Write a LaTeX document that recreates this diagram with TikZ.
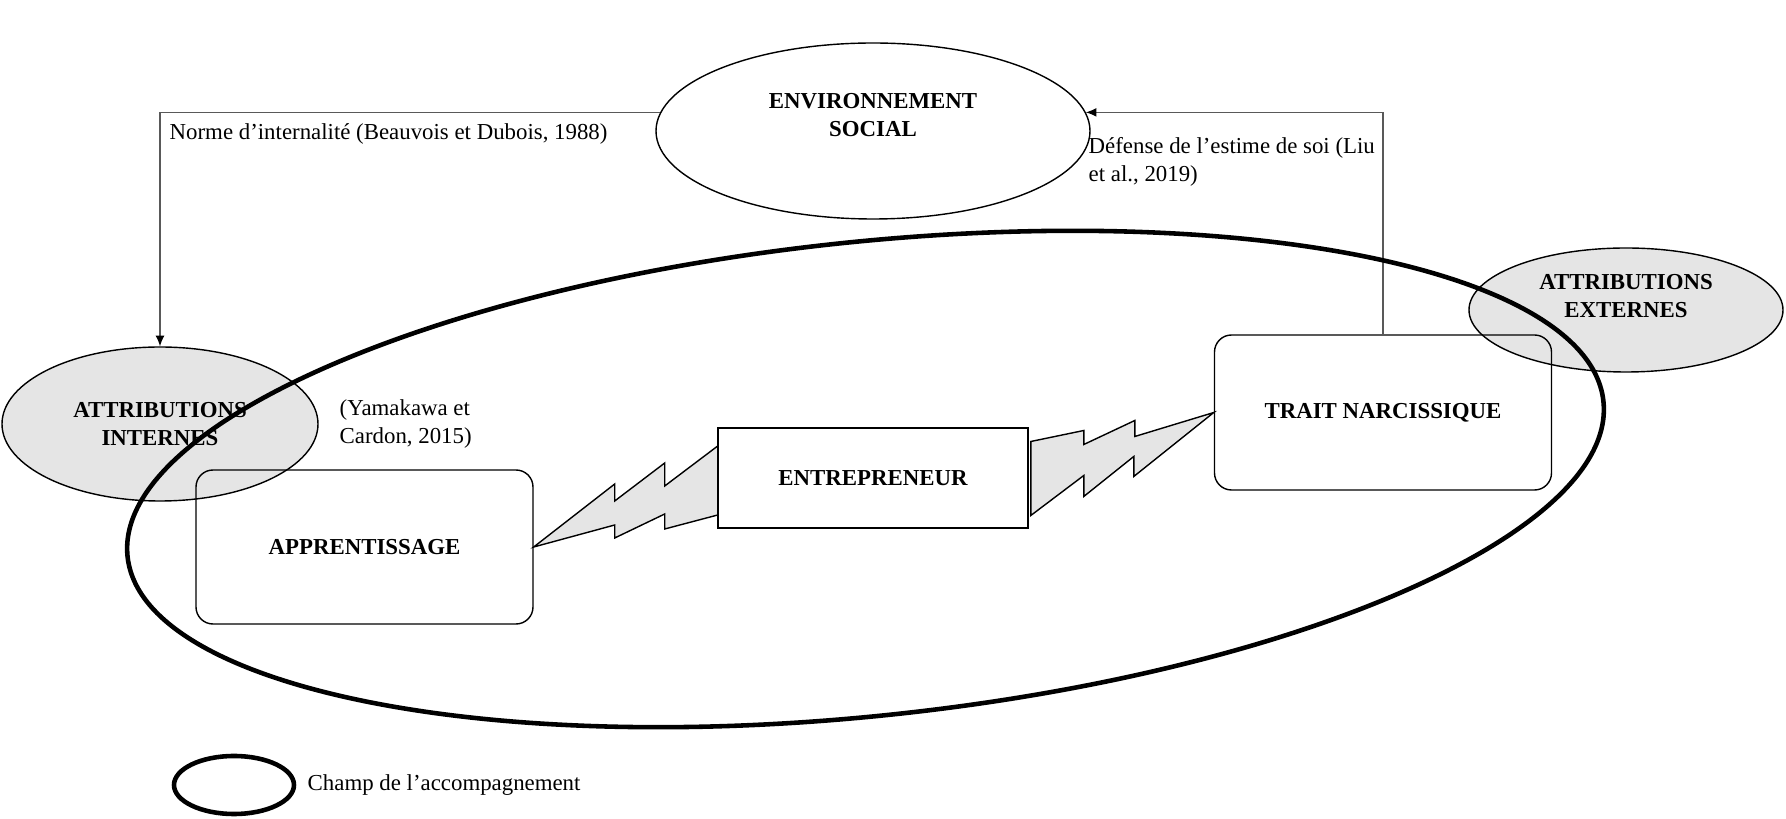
\documentclass[tikz,border=0pt]{standalone}
\usepackage{fontspec}
\setmainfont{Liberation Serif}
\usetikzlibrary{shapes.geometric,arrows.meta}

\begin{document}
\begin{tikzpicture}[line width=0.8pt, >={Latex[length=6pt,width=5pt,color=black]},
	font=\fontsize{13}{16}\selectfont,
	titre/.style={font=\fontsize{13}{16}\selectfont\bfseries, align=center},
	note/.style={inner sep=0pt, align=left, anchor=west},
	bulle/.style={ellipse, draw, inner sep=0pt},
	attrib/.style={bulle, fill=black!10},
	boite/.style={draw, rounded corners=0.34cm, minimum width=6.74cm, minimum height=3.08cm, titre},
	eclair/.style={draw, fill=black!10},
	lien/.style={line width=0.6pt, draw=black!65},
	champ/.style={line width=2.6pt}]

\useasboundingbox (0,0) rectangle (35.72,-16.38);

\node (ai) at (3.2,-8.48) [attrib, minimum width=6.32cm, minimum height=3.08cm] {};
\node (aitxt) at (ai.center) [titre] {ATTRIBUTIONS\\INTERNES};
\node (ae) at (32.52,-6.2) [attrib, minimum width=6.28cm, minimum height=2.48cm] {};
\node (aetxt) at ([yshift=0.28cm]ae.center) [titre] {ATTRIBUTIONS\\EXTERNES};

\node (env) at (17.46,-2.62) [bulle, minimum width=8.68cm, minimum height=3.52cm] {};
\node (envtxt) at ([yshift=0.32cm]env.center) [titre] {ENVIRONNEMENT\\SOCIAL};

\node (app) at (7.29,-10.94) [boite] {APPRENTISSAGE};
\node (ent) at (17.46,-9.56) [draw, minimum width=6.2cm, minimum height=2cm, titre] {ENTREPRENEUR};
\node (tn) at (27.66,-8.25) [boite, minimum height=3.1cm] {TRAIT NARCISSIQUE};

\draw[eclair] (app.east) -- ++(1.62,1.26) -- ++(0,-0.34) -- ++(1,0.76) -- ++(0,-0.46)
	-- ++(1.06,0.8) -- ++(0,-1.38) -- ++(-1.06,-0.28) -- ++(0,0.3) -- ++(-1,-0.48) -- ++(0,0.26) -- cycle;
\draw[eclair] (tn.west) -- ++(-1.58,-0.48) -- ++(0,0.32) -- ++(-1.02,-0.48) -- ++(0,0.28)
	-- ++(-1.06,-0.22) -- ++(0,-1.48) -- ++(1.06,0.8) -- ++(0,-0.42) -- ++(1,0.8) -- ++(0,-0.4) -- cycle;

\draw[lien,->] (env.175) -| (ai.north);
\draw[lien,->] (tn.north) |- (env.5);

\node (norme) at (3.38,-2.68) [note] {Norme d’internalité (Beauvois et Dubois, 1988)};
\node (defense) at (21.76,-3.23) [note] {Défense de l’estime de soi (Liu\\et al., 2019)};
\node (yama) at (6.78,-8.48) [note] {(Yamakawa et\\Cardon, 2015)};

% champ de l'accompagnement
\draw[champ, rotate around={6:(17.31,-9.58)}] (17.31,-9.58) ellipse[x radius=14.84, y radius=4.74];

\node (leg) at (4.68,-15.7) [bulle, champ, minimum width=2.4cm, minimum height=1.16cm] {};
\node (legtxt) at (6.14,-15.7) [note] {Champ de l’accompagnement};

\end{tikzpicture}
\end{document}
